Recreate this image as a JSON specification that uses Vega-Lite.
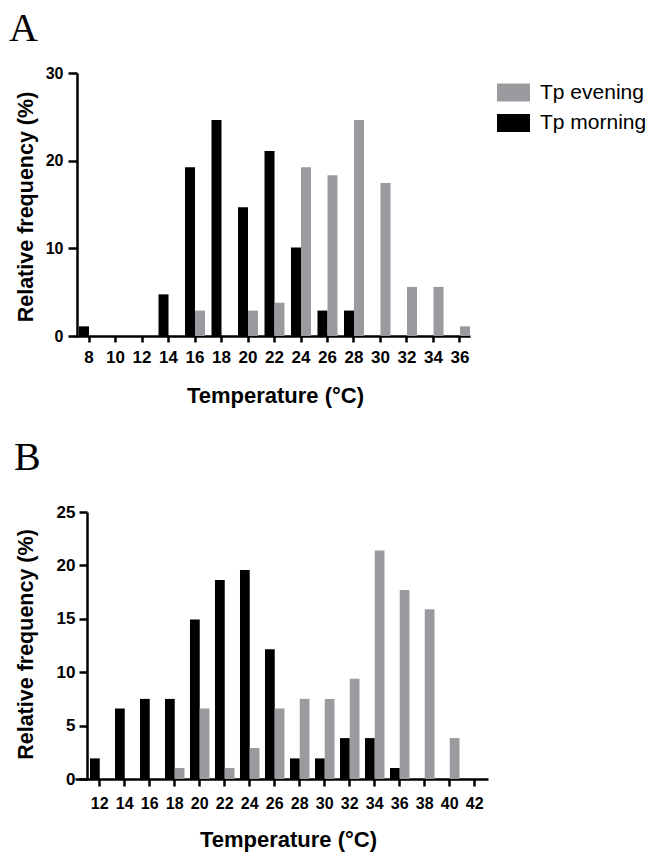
{
  "$schema": "https://vega.github.io/schema/vega-lite/v6.json",
  "background": "white",
  "padding": {"left": 9, "top": 9, "right": 5, "bottom": 3},
  "config": {
    "view": {"stroke": null},
    "axis": {
      "grid": false,
      "domainColor": "#000000",
      "domainWidth": 2.5,
      "tickColor": "#000000",
      "tickWidth": 2.5,
      "labelColor": "#000000",
      "titleColor": "#000000",
      "labelFont": "Liberation Sans",
      "titleFont": "Liberation Sans",
      "labelFontWeight": "bold",
      "titleFontWeight": "bold"
    }
  },
  "datasets": {
    "A": [
      {"t": 8, "series": "Tp morning", "freq": 1.1},
      {"t": 14, "series": "Tp morning", "freq": 4.75},
      {"t": 16, "series": "Tp morning", "freq": 19.25},
      {"t": 18, "series": "Tp morning", "freq": 24.65},
      {"t": 20, "series": "Tp morning", "freq": 14.7},
      {"t": 22, "series": "Tp morning", "freq": 21.1},
      {"t": 24, "series": "Tp morning", "freq": 10.1},
      {"t": 26, "series": "Tp morning", "freq": 2.9},
      {"t": 28, "series": "Tp morning", "freq": 2.9},
      {"t": 16, "series": "Tp evening", "freq": 2.9},
      {"t": 20, "series": "Tp evening", "freq": 2.9},
      {"t": 22, "series": "Tp evening", "freq": 3.8},
      {"t": 24, "series": "Tp evening", "freq": 19.25},
      {"t": 26, "series": "Tp evening", "freq": 18.35},
      {"t": 28, "series": "Tp evening", "freq": 24.65},
      {"t": 30, "series": "Tp evening", "freq": 17.45},
      {"t": 32, "series": "Tp evening", "freq": 5.6},
      {"t": 34, "series": "Tp evening", "freq": 5.6},
      {"t": 36, "series": "Tp evening", "freq": 1.1}
    ],
    "B": [
      {"t": 12, "series": "Tp morning", "freq": 1.93},
      {"t": 14, "series": "Tp morning", "freq": 6.6},
      {"t": 16, "series": "Tp morning", "freq": 7.5},
      {"t": 18, "series": "Tp morning", "freq": 7.5},
      {"t": 20, "series": "Tp morning", "freq": 14.93},
      {"t": 22, "series": "Tp morning", "freq": 18.64},
      {"t": 24, "series": "Tp morning", "freq": 19.58},
      {"t": 26, "series": "Tp morning", "freq": 12.16},
      {"t": 28, "series": "Tp morning", "freq": 1.93},
      {"t": 30, "series": "Tp morning", "freq": 1.93},
      {"t": 32, "series": "Tp morning", "freq": 3.83},
      {"t": 34, "series": "Tp morning", "freq": 3.83},
      {"t": 36, "series": "Tp morning", "freq": 1.03},
      {"t": 18, "series": "Tp evening", "freq": 1.03},
      {"t": 20, "series": "Tp evening", "freq": 6.6},
      {"t": 22, "series": "Tp evening", "freq": 1.03},
      {"t": 24, "series": "Tp evening", "freq": 2.9},
      {"t": 26, "series": "Tp evening", "freq": 6.6},
      {"t": 28, "series": "Tp evening", "freq": 7.5},
      {"t": 30, "series": "Tp evening", "freq": 7.5},
      {"t": 32, "series": "Tp evening", "freq": 9.38},
      {"t": 34, "series": "Tp evening", "freq": 21.4},
      {"t": 36, "series": "Tp evening", "freq": 17.7},
      {"t": 38, "series": "Tp evening", "freq": 15.9},
      {"t": 40, "series": "Tp evening", "freq": 3.83}
    ]
  },
  "spacing": 32,
  "resolve": {
    "scale": {"color": "independent", "xOffset": "independent"},
    "legend": {"color": "independent"}
  },
  "vconcat": [
    {
      "title": {"text": "A", "font": "Liberation Serif", "fontSize": 40, "fontWeight": "normal", "anchor": "start", "frame": "group", "baseline": "alphabetic", "offset": -16, "dx": -66, "color": "#000000"},
      "data": {"name": "A"},
      "width": 395,
      "height": 263,
      "mark": {"type": "bar"},
      "encoding": {
        "x": {
          "field": "t", "type": "ordinal",
          "scale": {"domain": [8, 10, 12, 14, 16, 18, 20, 22, 24, 26, 28, 30, 32, 34, 36], "paddingInner": 0.245, "paddingOuter": 0.0755, "align": 1},
          "axis": {"title": "Temperature (°C)", "labelAngle": 0, "tickSize": 6, "labelPadding": 7, "labelFontSize": 17, "titleFontSize": 22, "titleX": 200, "titleY": 66, "titleAlign": "center", "titleBaseline": "alphabetic"}
        },
        "xOffset": {"field": "series", "type": "nominal", "scale": {"domain": ["Tp morning", "Tp evening"], "paddingInner": 0, "paddingOuter": 0}},
        "y": {
          "field": "freq", "type": "quantitative",
          "scale": {"domain": [0, 30], "nice": false},
          "axis": {"title": "Relative frequency (%)", "values": [0, 10, 20, 30], "offset": -2, "tickSize": 9, "labelPadding": 5, "labelFontSize": 16, "titleFontSize": 21.5, "titleX": -44.5, "titleY": 133.5, "titleAngle": -90, "titleAlign": "center", "titleBaseline": "alphabetic"}
        },
        "color": {
          "field": "series", "type": "nominal",
          "scale": {"domain": ["Tp evening", "Tp morning"], "range": ["#9b9b9f", "#000000"]},
          "legend": {"title": null, "orient": "none", "legendX": 422, "legendY": 3, "symbolType": "M-1,-0.545H1V0.545H-1Z", "symbolSize": 1089, "symbolStrokeWidth": 0, "symbolOpacity": 1, "labelFontSize": 21, "labelFont": "Liberation Sans", "labelColor": "#000000", "labelOffset": 10, "rowPadding": 3.5, "padding": 0}
        }
      }
    },
    {
      "title": {"text": "B", "font": "Liberation Serif", "fontSize": 40, "fontWeight": "normal", "anchor": "start", "frame": "group", "baseline": "alphabetic", "offset": -7, "dx": -61, "color": "#000000"},
      "data": {"name": "B"},
      "width": 413,
      "height": 267,
      "mark": {"type": "bar"},
      "encoding": {
        "x": {
          "field": "t", "type": "ordinal",
          "scale": {"domain": [12, 14, 16, 18, 20, 22, 24, 26, 28, 30, 32, 34, 36, 38, 40, 42], "paddingInner": 0.22, "paddingOuter": 0.37, "align": 0.81},
          "axis": {"title": "Temperature (°C)", "labelAngle": 0, "tickSize": 7, "labelPadding": 9, "labelFontSize": 16, "titleFontSize": 22, "titleX": 213, "titleY": 67, "titleAlign": "center", "titleBaseline": "alphabetic"}
        },
        "xOffset": {"field": "series", "type": "nominal", "scale": {"domain": ["Tp morning", "Tp evening"], "paddingInner": 0, "paddingOuter": 0}},
        "y": {
          "field": "freq", "type": "quantitative",
          "scale": {"domain": [0, 25], "nice": false},
          "axis": {"title": "Relative frequency (%)", "values": [0, 5, 10, 15, 20, 25], "offset": -12, "tickSize": 8, "labelPadding": 4, "labelFontSize": 17, "titleFontSize": 21.5, "titleX": -54.5, "titleY": 132, "titleAngle": -90, "titleAlign": "center", "titleBaseline": "alphabetic"}
        },
        "color": {
          "field": "series", "type": "nominal",
          "scale": {"domain": ["Tp evening", "Tp morning"], "range": ["#9b9b9f", "#000000"]},
          "legend": null
        }
      }
    }
  ]
}
